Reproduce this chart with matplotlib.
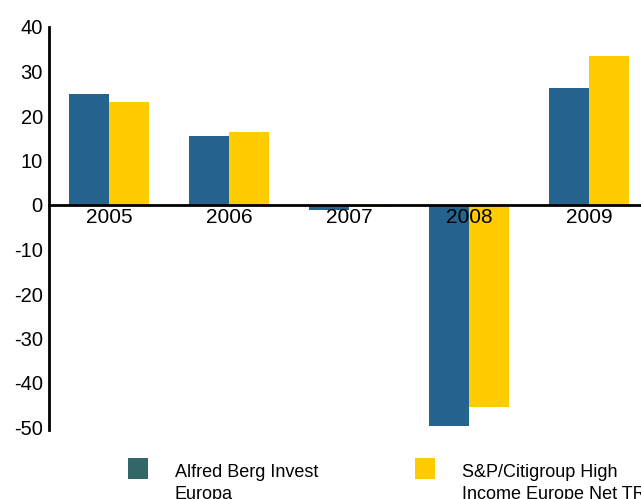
import matplotlib.pyplot as plt
from matplotlib.patches import Rectangle
import numpy as np

plt.rcParams['font.family'] = ['Liberation Sans', 'DejaVu Sans']

years = ['2005', '2006', '2007', '2008', '2009']
fund = [24.9, 15.5, -1.2, -49.6, 26.3]
index = [23.1, 16.4, -0.4, -45.5, 33.5]
series_names = ['Alfred Berg Invest\nEuropa', 'S&P/Citigroup High\nIncome Europe Net TR']
bar_colors = ['#24648e', '#ffcc00']
legend_colors = ['#336666', '#ffcc00']
yticks = [40, 30, 20, 10, 0, -10, -20, -30, -40, -50]

W, H = 641, 499
fig = plt.figure(figsize=(W / 100, H / 100), dpi=100)
ax = fig.add_axes([49 / W, (H - 427.5) / H, 1 - 49 / W, (427.5 - 27) / H])

x = np.arange(len(years))
bw = 1 / 3
ax.bar(x - bw / 2, fund, bw, color=bar_colors[0], linewidth=0)
ax.bar(x + bw / 2, index, bw, color=bar_colors[1], linewidth=0)

for s in ['top', 'right']:
    ax.spines[s].set_visible(False)
ax.spines['bottom'].set_position(('data', 0))
ax.spines['bottom'].set_linewidth(2)
ax.spines['left'].set_linewidth(2)
ax.spines['left'].set_bounds(-50.5, 40)

ax.set_xlim(-0.5, (641 - 109) / 120)
ax.set_ylim(-50, 40)
ax.set_yticks(yticks)
ax.set_yticklabels([str(t) for t in yticks])
ax.set_xticks(x)
ax.set_xticklabels(years)
ax.tick_params(axis='both', length=0)
ax.tick_params(axis='y', pad=4.5, labelsize=14.5)
ax.tick_params(axis='x', pad=2, labelsize=15)

# legend drawn by hand below the plot
leg_x = [128, 415]
for name, col, lx in zip(series_names, legend_colors, leg_x):
    fig.add_artist(Rectangle((lx / W, (H - 479) / H), 20 / W, 21 / H,
                             transform=fig.transFigure, facecolor=col,
                             edgecolor='none'))
    fig.text((lx + 47) / W, (H - 477) / H, name.split('\n')[0], fontsize=13,
             va='baseline', ha='left')
    fig.text((lx + 47) / W, (H - 499) / H, name.split('\n')[1], fontsize=13,
             va='baseline', ha='left')

fig.savefig('out.png', dpi=100)
